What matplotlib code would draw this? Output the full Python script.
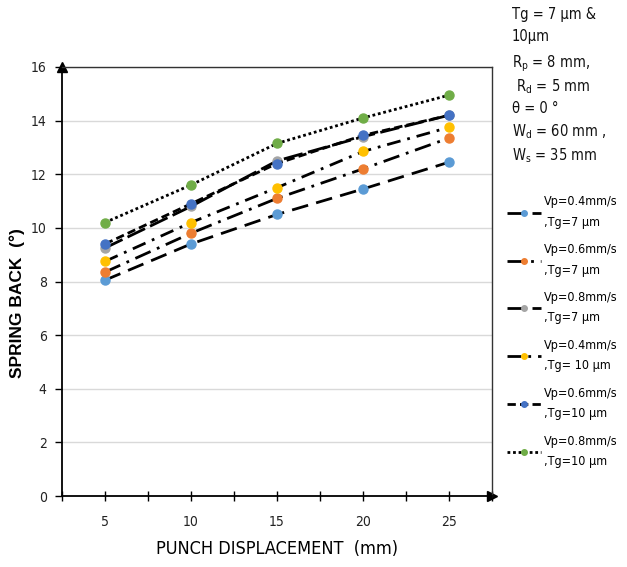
import matplotlib
matplotlib.use("Agg")
import matplotlib.pyplot as plt
from matplotlib.font_manager import FontProperties

# punch displacement (mm)
displacement = [5, 10, 15, 20, 25]

# spring back (deg)
vp04_tg7 = [8.05, 9.4, 10.5, 11.45, 12.45]
vp06_tg7 = [8.35, 9.8, 11.1, 12.2, 13.35]
vp08_tg7 = [9.25, 10.8, 12.5, 13.4, 14.2]
vp04_tg10 = [8.75, 10.2, 11.5, 12.85, 13.75]
vp06_tg10 = [9.4, 10.9, 12.4, 13.45, 14.2]
vp08_tg10 = [10.2, 11.6, 13.15, 14.1, 14.95]

labels = ["Vp=0.4mm/s\n,Tg=7 µm", "Vp=0.6mm/s\n,Tg=7 µm", "Vp=0.8mm/s\n,Tg=7 µm",
          "Vp=0.4mm/s\n,Tg= 10 µm", "Vp=0.6mm/s\n,Tg=10 µm", "Vp=0.8mm/s\n,Tg=10 µm"]
colors = ["#5B9BD5", "#ED7D31", "#A5A5A5", "#FFC000", "#4472C4", "#70AD47"]
dashes = [(6, 3), (6, 2.5, 1, 2.5), (7, 2), (5, 2.5, 1, 2.5), (3, 1.5), (1, 1)]
series = [vp04_tg7, vp06_tg7, vp08_tg7, vp04_tg10, vp06_tg10, vp08_tg10]


def narrow(size):
    return FontProperties(family="DejaVu Sans", stretch="condensed", size=size)


fig = plt.figure(figsize=(6.27, 5.67), dpi=100)
ax = fig.add_axes([62 / 627, 1 - 496 / 567, 430 / 627, 429 / 567])

for vals, lab, col, ds in zip(series, labels, colors, dashes):
    ax.plot(displacement, vals, color="black", lw=2.0, dashes=ds,
            marker="o", ms=6.5, mfc=col, mec=col, label=lab)

ax.set_xlim(2.5, 27.5)
ax.set_ylim(0, 16)
ax.set_xticks([2.5, 5, 7.5, 10, 12.5, 15, 17.5, 20, 22.5, 25, 27.5])
ax.set_xticklabels(["", "5", "", "10", "", "15", "", "20", "", "25", ""])
ax.set_yticks(range(0, 17, 2))
ax.yaxis.grid(True, color="#d9d9d9", lw=1)
ax.set_axisbelow(True)
ax.tick_params(axis="x", direction="inout", length=7, width=1, pad=10)
ax.tick_params(axis="y", direction="out", length=5, width=1, pad=6)
for t in ax.get_xticklabels() + ax.get_yticklabels():
    t.set_fontproperties(narrow(10))
    t.set_color("#222222")

for s in ["left", "bottom"]:
    ax.spines[s].set_linewidth(1.3)
    ax.spines[s].set_color("black")
for s in ["top", "right"]:
    ax.spines[s].set_linewidth(1)
    ax.spines[s].set_color("#333333")

# axis arrows
ax.plot(1, 0, ">k", ms=7, transform=ax.transAxes, clip_on=False)
ax.plot(0, 1, "^k", ms=7, transform=ax.transAxes, clip_on=False)

ax.set_ylabel("SPRING BACK  (°)", family="Liberation Sans", fontweight="bold",
              fontsize=12.5)
ax.yaxis.set_label_coords(-37 / 430, 0.45)
ax.set_xlabel("PUNCH DISPLACEMENT  (mm)", fontproperties=narrow(13), labelpad=8)

# process parameters
params = ["Tg = 7 µm &", "10µm", "R$_{\\mathregular{p}}$ = 8 mm,", " R$_{\\mathregular{d}}$ = 5 mm",
          "θ = 0 °", "W$_{\\mathregular{d}}$ = 60 mm ,", "W$_{\\mathregular{s}}$ = 35 mm"]
ys = [14, 36, 64, 87, 109, 132, 156]
for txt, y in zip(params, ys):
    fig.text(512 / 627, 1 - y / 567, txt, fontproperties=narrow(10.5),
             va="center", ha="left", color="#111111")

leg = ax.legend(loc="upper left", bbox_to_anchor=(496 / 627, 1 - 184 / 567),
                bbox_transform=fig.transFigure, frameon=False, handlelength=2.7,
                handletextpad=0.2, labelspacing=1.15, prop=narrow(9))
for line in leg.get_lines():
    line.set_markersize(4)
for t in leg.get_texts():
    t.set_linespacing(1.75)

fig.savefig("out.png", dpi=100)
